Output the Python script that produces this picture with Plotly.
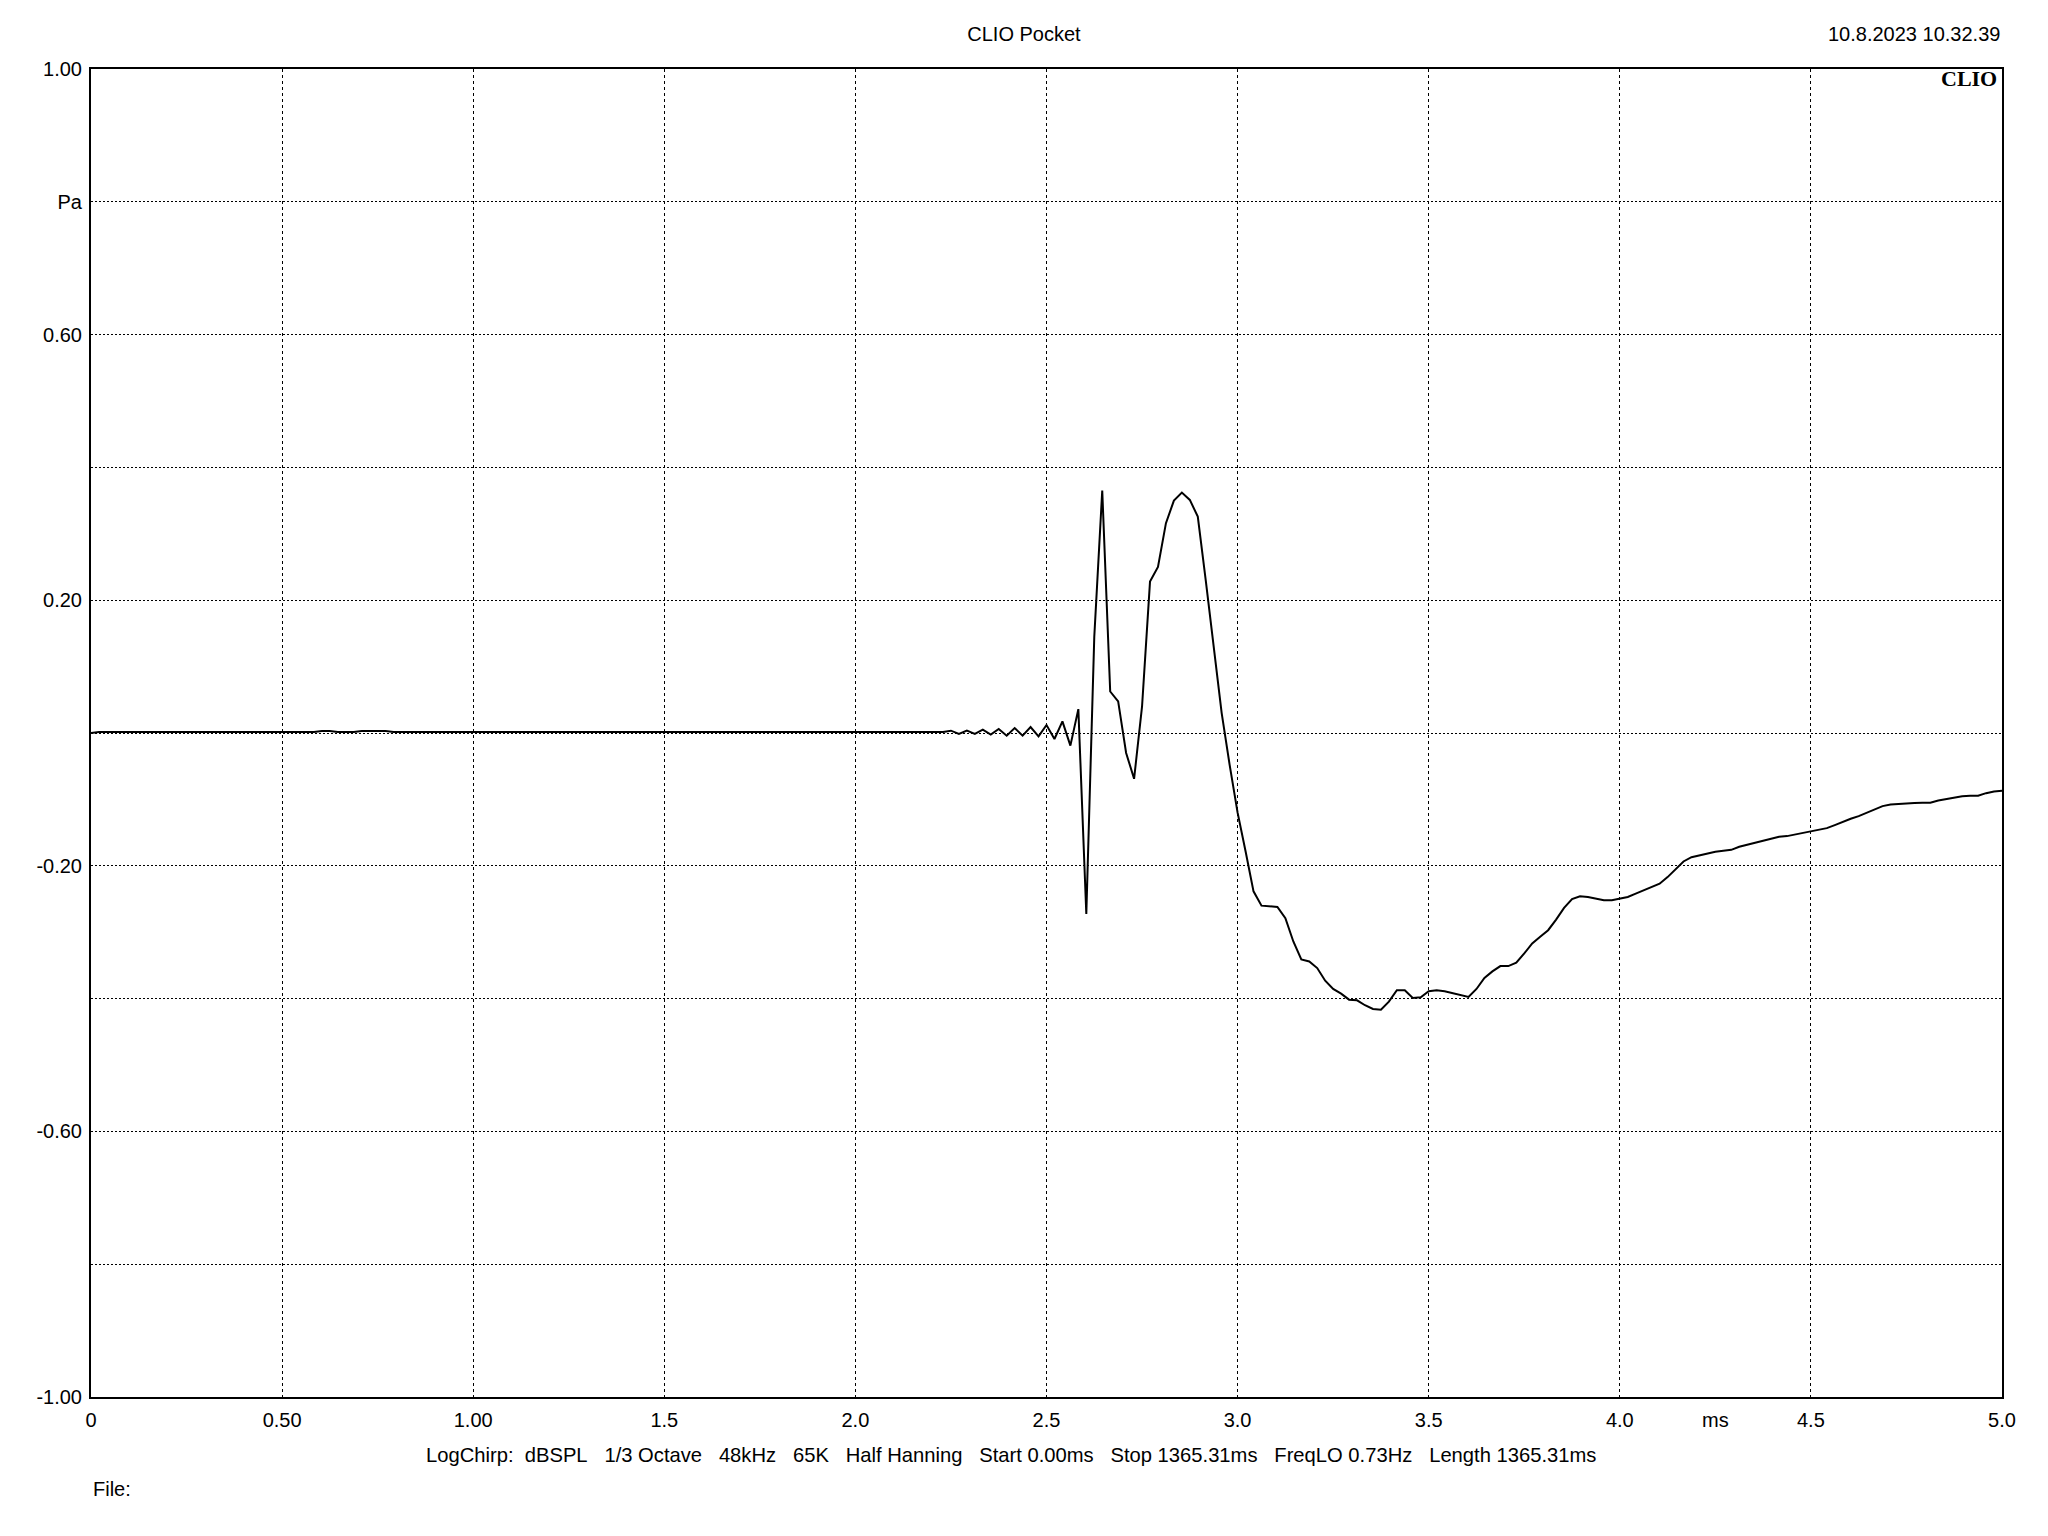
import plotly.graph_objects as go

# ---------------- data ----------------
SAMPLE_RATE_KHZ = 48  # samples per ms (48 kHz)

# impulse response samples, Pa, one value per sample (n = 0 .. 240  -> 0 .. 5 ms)
pressure_flat = [
    0.0, 0.0015, 0.0015, 0.0015, 0.0015, 0.0015, 0.0015, 0.0015, 0.0015, 0.0015,
    0.0015, 0.0015, 0.0015, 0.0015, 0.0015, 0.0015, 0.0015, 0.0015, 0.0015, 0.0015,
    0.0015, 0.0015, 0.0015, 0.0015, 0.0015, 0.0015, 0.0015, 0.0015, 0.0015, 0.0030,
    0.0030, 0.0015, 0.0015, 0.0015, 0.0030, 0.0030, 0.0030, 0.0030, 0.0015, 0.0015,
    0.0025, 0.0025, 0.0025, 0.0025, 0.0025, 0.0025, 0.0025, 0.0025, 0.0025, 0.0025,
    0.0025, 0.0025, 0.0025, 0.0025, 0.0025, 0.0025, 0.0025, 0.0025, 0.0025, 0.0025,
    0.0025, 0.0025, 0.0025, 0.0025, 0.0025, 0.0025, 0.0025, 0.0025, 0.0025, 0.0025,
    0.0025, 0.0025, 0.0025, 0.0025, 0.0025, 0.0025, 0.0025, 0.0025, 0.0025, 0.0025,
    0.0025, 0.0025, 0.0025, 0.0025, 0.0025, 0.0025, 0.0025, 0.0025, 0.0025, 0.0025,
    0.0025, 0.0025, 0.0025, 0.0025, 0.0025, 0.0025, 0.0025, 0.0015, 0.0015, 0.0015,
    0.0015, 0.0015, 0.0015, 0.0015, 0.0015, 0.0015, 0.0015, 0.0015,
]
pressure_ringing = [
    0.0035, -0.0015, 0.0035, -0.0015, 0.005, -0.0025, 0.006, -0.004, 0.0075, -0.004,
    0.009, -0.005, 0.012, -0.009, 0.0175, -0.019, 0.036,
]
pressure_main = [
    -0.2725, 0.145, 0.365, 0.0625, 0.0475, -0.03, -0.069, 0.04, 0.228, 0.25,
    0.316, 0.350, 0.362, 0.351, 0.326, 0.23, 0.1255, 0.030, -0.048, -0.12,
    -0.178, -0.2385, -0.26, -0.261, -0.262, -0.279, -0.314, -0.341, -0.344, -0.354,
    -0.373, -0.3855, -0.3925, -0.4016, -0.4026, -0.41, -0.4157, -0.4167, -0.4046, -0.3875,
    -0.3875, -0.399, -0.398, -0.389, -0.3875, -0.389, -0.3916, -0.3946, -0.3976, -0.3855,
    -0.369, -0.359, -0.351, -0.351, -0.346, -0.332, -0.317, -0.307, -0.297, -0.281,
    -0.2635, -0.25, -0.246, -0.247, -0.2495, -0.252, -0.252, -0.25, -0.247, -0.242,
    -0.237, -0.232, -0.227, -0.217, -0.205, -0.1935, -0.187, -0.184, -0.182, -0.179,
    -0.1775, -0.176,
]
pressure_tail = [
    -0.1714, -0.168, -0.1654, -0.1624, -0.1593, -0.1563, -0.1553, -0.1528, -0.1503, -0.1488,
    -0.1463, -0.1433, -0.1388, -0.1337, -0.1292, -0.1252, -0.1202, -0.1157, -0.1101, -0.1076,
    -0.1066, -0.1061, -0.1056, -0.1051, -0.1051, -0.1016, -0.0991, -0.0966, -0.0951, -0.0946,
    -0.0946, -0.0906, -0.0881, -0.0871,
]
pressure_pa = pressure_flat + pressure_ringing + pressure_main + pressure_tail
time_ms = [n / SAMPLE_RATE_KHZ for n in range(len(pressure_pa))]

x_tick_values = [0, 0.5, 1.0, 1.5, 2.0, 2.5, 3.0, 3.5, 4.0, 4.5, 5.0]
x_tick_labels = ["0", "0.50", "1.00", "1.5", "2.0", "2.5", "3.0", "3.5", "4.0", "4.5", "5.0"]
y_tick_values = [-1.0, -0.8, -0.6, -0.4, -0.2, 0.0, 0.2, 0.4, 0.6, 0.8, 1.0]
y_tick_labels = ["-1.00", "", "-0.60", "", "-0.20", "", "0.20", "", "0.60", "Pa", "1.00"]

title_text = "CLIO Pocket"
date_text = "10.8.2023 10.32.39"
x_unit = "ms"
info_segments = ["LogChirp:", "dBSPL", "1/3 Octave", "48kHz", "65K", "Half Hanning",
                 "Start 0.00ms", "Stop 1365.31ms", "FreqLO 0.73Hz", "Length 1365.31ms"]
file_text = "File:"

# ---------------- figure ----------------
FONT = "Liberation Sans, Arial, sans-serif"
NB = "\u00a0"

fig = go.Figure()
fig.add_trace(go.Scatter(
    x=time_ms, y=pressure_pa, mode="lines",
    line=dict(color="black", width=2), hoverinfo="skip", showlegend=False,
))

axis_common = dict(
    showgrid=True, gridcolor="black", gridwidth=1,
    showline=True, linecolor="black", linewidth=2, mirror=True,
    zeroline=False, ticks="", tickfont=dict(family=FONT, size=20, color="black"),
)
fig.update_xaxes(range=[0, 5], tickmode="array", tickvals=x_tick_values,
                 ticktext=x_tick_labels, griddash="3px,3px",
                 ticklabelstandoff=4, **axis_common)
fig.update_yaxes(range=[-1, 1], tickmode="array", tickvals=y_tick_values,
                 ticktext=y_tick_labels, griddash="2px,2px",
                 ticklabelstandoff=3, **axis_common)

info_text = info_segments[0] + NB * 2 + (NB * 3).join(info_segments[1:])

annotations = [
    dict(text=date_text, xref="paper", yref="paper", x=1, y=1, xanchor="right",
         yanchor="middle", yshift=35, showarrow=False,
         font=dict(family=FONT, size=20, color="black")),
    dict(text="<b>CLIO</b>", xref="paper", yref="paper", x=1, y=1, xanchor="right",
         yanchor="middle", xshift=-3, yshift=-9, showarrow=False,
         font=dict(family="Liberation Serif, Times New Roman, serif", size=22, color="black")),
    dict(text=x_unit, xref="x", yref="paper", x=4.25, y=0, xanchor="center",
         yanchor="top", yshift=-10, showarrow=False,
         font=dict(family=FONT, size=20, color="black")),
    dict(text=info_text, xref="paper", yref="paper", x=0.4814, y=0, xanchor="center",
         yanchor="middle", yshift=-58, showarrow=False,
         font=dict(family=FONT, size=20.2, color="black")),
    dict(text=file_text, xref="paper", yref="paper", x=0, y=0, xanchor="left",
         yanchor="middle", yshift=-92, showarrow=False,
         font=dict(family=FONT, size=20, color="black")),
]

fig.update_layout(
    width=2048, height=1536,
    margin=dict(l=91, r=46, t=69, b=139),
    paper_bgcolor="white", plot_bgcolor="white",
    title=dict(text=title_text, xref="container", x=0.5, xanchor="center",
               yref="container", y=1 - 34 / 1536, yanchor="middle",
               font=dict(family=FONT, size=20, color="black")),
    annotations=annotations,
    showlegend=False,
)

fig.write_html("out.html", config={"displayModeBar": False},
               post_script="document.body.style.margin='0px';")
